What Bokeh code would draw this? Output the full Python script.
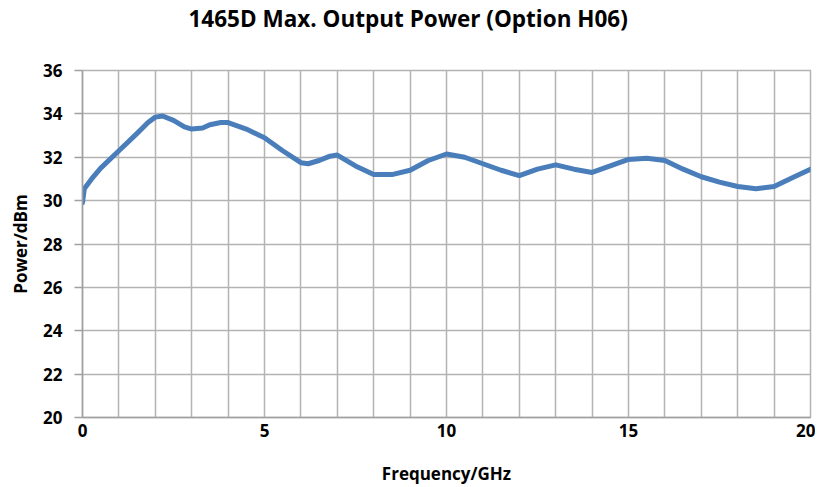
from bokeh.plotting import figure
from bokeh.embed import file_html
from bokeh.resources import INLINE
from bokeh.models import FixedTicker, Title

freq_ghz = [0.0, 0.05, 0.25, 0.5, 1.0, 1.5, 1.8, 2.0, 2.2, 2.5, 2.8, 3.0, 3.3, 3.5, 3.8, 4.0, 4.5, 5.0, 5.5, 6.0, 6.2, 6.5,
            6.8, 7.0, 7.5, 8.0, 8.5, 9.0, 9.5, 10.0, 10.5, 11.0, 11.5, 12.0, 12.5, 13.0, 13.5,
            14.0, 14.5, 15.0, 15.5, 16.0, 16.5, 17.0, 17.5, 18.0, 18.5, 19.0, 19.5, 20.0]
power_dbm = [29.9, 30.55, 31.0, 31.5, 32.3, 33.1, 33.6, 33.85, 33.9, 33.7, 33.4, 33.3, 33.35, 33.5, 33.6, 33.6, 33.3, 32.9, 32.3, 31.75, 31.7, 31.85,
             32.05, 32.1, 31.6, 31.2, 31.2, 31.4, 31.85, 32.15, 32.0, 31.7, 31.4, 31.15, 31.45, 31.65, 31.45,
             31.3, 31.6, 31.9, 31.95, 31.85, 31.45, 31.1, 30.85, 30.65, 30.55, 30.65, 31.05, 31.45]
x_ticks = [0, 5, 10, 15, 20]
y_ticks = [20, 22, 24, 26, 28, 30, 32, 34, 36]

p = figure(width=815, height=487, output_backend="svg", toolbar_location=None,
           x_range=(0, 20), y_range=(20, 36),
           min_border_left=82, min_border_right=5, min_border_top=70, min_border_bottom=70)

spacer = Title(text=" ", text_font_size="1px", standoff=34)
p.add_layout(spacer, "above")
title = Title(text="1465D Max. Output Power (Option H06)", align="left", offset=106,
              text_font="Open Sans", text_font_size="22.5px", text_font_style="bold",
              text_color="black", standoff=0)
p.add_layout(title, "above")

p.line(freq_ghz, power_dbm, line_color="#4a7ebb", line_width=5, line_join="round", line_cap="round")

p.xaxis.ticker = FixedTicker(ticks=x_ticks)
p.yaxis.ticker = FixedTicker(ticks=y_ticks)
p.xgrid.ticker = FixedTicker(ticks=list(range(0, 21)))
p.ygrid.ticker = FixedTicker(ticks=y_ticks)
p.grid.grid_line_color = "#b3b3b3"
p.grid.grid_line_width = 1.5
p.outline_line_color = "#b3b3b3"
p.outline_line_width = 1.5

for ax in (p.xaxis, p.yaxis):
    ax.axis_line_color = "#a0a0a0"
    ax.axis_line_width = 1.5
    ax.major_tick_line_color = "#a0a0a0"
    ax.major_tick_line_width = 1.5
    ax.minor_tick_line_color = None
    ax.major_tick_in = 0
    ax.major_label_text_font = "Open Sans"
    ax.major_label_text_font_style = "bold"
    ax.major_label_text_font_size = "17px"
    ax.major_label_text_color = "black"
    ax.axis_label_text_font = "Open Sans"
    ax.axis_label_text_font_style = "bold"
    ax.axis_label_text_font_size = "17px"
    ax.axis_label_text_color = "black"

p.xaxis.major_tick_out = 0
p.yaxis.major_tick_out = 8
p.xaxis.major_label_standoff = 6
p.yaxis.major_label_standoff = 12
p.xaxis.axis_label = "Frequency/GHz"
p.yaxis.axis_label = "Power/dBm"
p.xaxis.axis_label_standoff = 22
p.yaxis.axis_label_standoff = 8

p.background_fill_color = "white"
p.border_fill_color = "white"

open("out.html", "w").write(file_html(p, INLINE))
